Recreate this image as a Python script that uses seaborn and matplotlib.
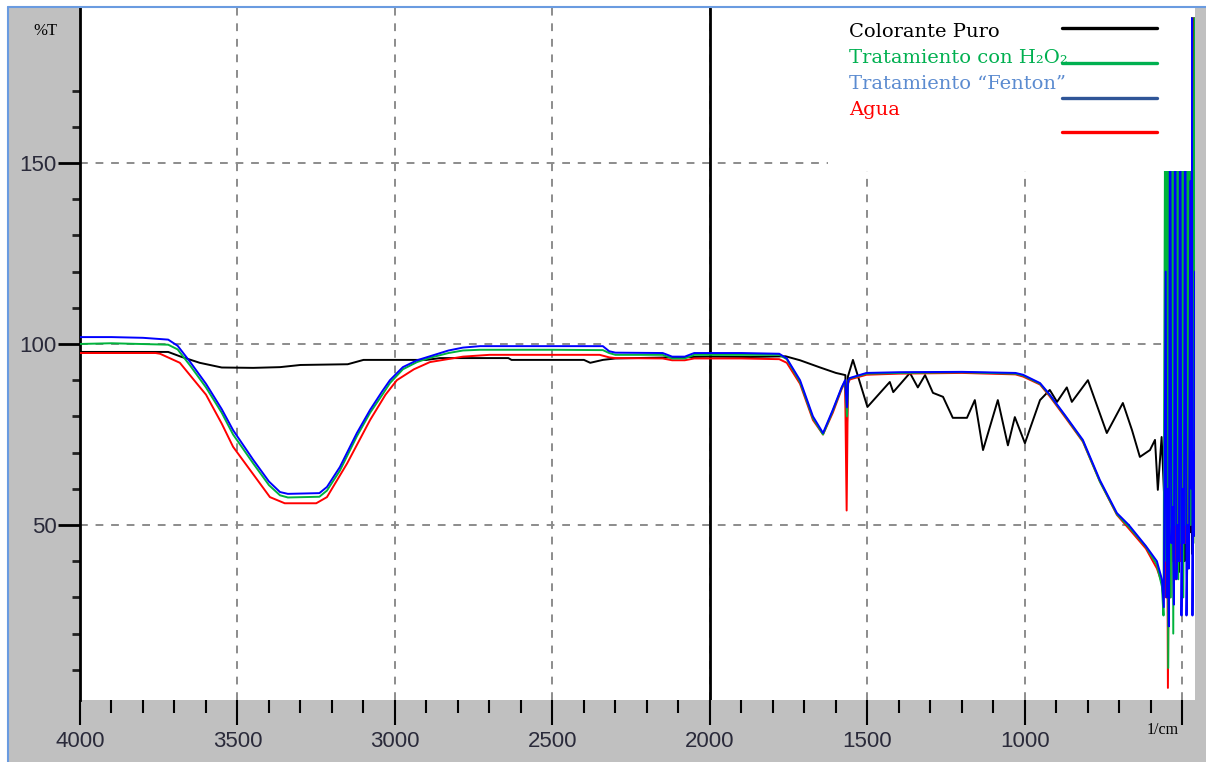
import numpy as np
import pandas as pd
import matplotlib
matplotlib.use("Agg")
import matplotlib.pyplot as plt
import seaborn as sns
from matplotlib.lines import Line2D
from matplotlib.patches import Rectangle

# ---------------- data ----------------
series_names = ["Colorante Puro", "Tratamiento con H\u2082O\u2082",
                "Tratamiento \u201cFenton\u201d", "Agua"]

puro_wn = [4000, 3720, 3680, 3620, 3550, 3450, 3365, 3300, 3150, 3100, 2900, 2857,
           2640, 2630, 2400, 2380, 2340, 2300, 2000, 1870, 1760, 1714, 1650, 1600,
           1570, 1566, 1562, 1546, 1500, 1429, 1418, 1365, 1340, 1317, 1292, 1260,
           1229, 1184, 1159, 1133, 1086, 1054, 1032, 1000, 952, 921, 898, 867, 851,
           800, 740, 689, 660, 635, 603, 587, 578, 566, 556,
           553, 550, 547, 544, 541, 538, 535, 532, 529, 526, 523, 520, 517, 514,
           511, 508, 505, 502, 499, 496, 493, 490, 487, 484, 481, 478, 475, 472,
           469, 466, 463]
puro_t = [97.8, 97.8, 96.5, 94.8, 93.5, 93.4, 93.6, 94.2, 94.4, 95.6, 95.6, 96.1,
          96.1, 95.6, 95.6, 94.8, 95.6, 96.0, 96.5, 96.4, 96.6, 95.5, 93.5, 92.0,
          91.4, 72.6, 91.0, 95.6, 82.6, 89.5, 86.7, 92.0, 88.0, 91.4, 86.5, 85.4,
          79.6, 79.6, 84.5, 70.7, 84.5, 72.0, 79.8, 72.6, 84.5, 87.3, 84.0, 88.0, 84.0,
          90.0, 75.4, 83.7, 76.2, 68.8, 70.7, 73.5, 59.7, 74.3, 54.0,
          65, 190, 48, 190, 45, 190, 60, 190, 45, 190, 55, 190, 40, 190,
          37, 190, 45, 190, 37, 190, 40, 190, 45, 190, 38, 190, 48, 190,
          42, 190, 47]

h2o2_wn = [4000, 3900, 3720, 3690, 3650, 3600, 3550, 3514, 3450, 3400, 3365, 3340,
           3240, 3216, 3175, 3121, 3079, 3040, 3016, 2975, 2930, 2889, 2830, 2784,
           2730, 2500, 2340, 2320, 2300, 2150, 2120, 2080, 2050, 1900, 1780, 1756,
           1714, 1673, 1641, 1610, 1582, 1571, 1565, 1561, 1556, 1503, 1400, 1200,
           1030, 1006, 952, 921, 870, 816, 762, 708, 670, 616, 581, 565, 560,
           554, 551, 548, 545, 541, 537, 533, 529, 525, 521, 517, 513, 509, 505,
           501, 497, 493, 489, 485, 481, 477, 473, 469, 465, 461]
h2o2_t = [100.0, 100.2, 99.8, 98.5, 94.0, 88.0, 81.0, 75.0, 67.0, 61.0, 58.2, 57.6,
          57.8, 59.5, 65.0, 74.5, 81.0, 86.0, 89.2, 93.0, 95.0, 96.2, 97.5, 98.2,
          98.4, 98.4, 98.3, 97.5, 97.0, 97.0, 96.0, 96.0, 97.0, 97.0, 97.0, 95.8,
          89.5, 79.5, 75.0, 81.5, 87.8, 89.8, 80.0, 89.8, 90.5, 91.8, 92.0, 92.2,
          91.8, 91.3, 89.0, 85.8, 79.8, 73.2, 62.0, 53.0, 49.5, 44.0, 39.0, 33.0, 25.0,
          190, 40, 190, 10.5, 190, 30, 190, 20, 190, 50, 190, 35, 190, 45,
          190, 30, 190, 50, 190, 40, 190, 50, 190, 45, 190]

fenton_wn = [4000, 3900, 3800, 3720, 3690, 3650, 3600, 3550, 3514, 3450, 3400, 3365,
             3340, 3240, 3216, 3175, 3121, 3079, 3040, 3016, 2975, 2930, 2889, 2830,
             2784, 2730, 2500, 2340, 2320, 2300, 2150, 2120, 2080, 2050, 1900, 1780,
             1756, 1714, 1673, 1641, 1610, 1582, 1571, 1565, 1561, 1556, 1503, 1400,
             1200, 1030, 1006, 952, 921, 870, 816, 762, 708, 670, 616, 581, 565, 559,
             553, 550, 546, 543, 539, 535, 531, 527, 523, 519, 515, 511, 507, 503,
             499, 495, 491, 487, 483, 479, 475, 472, 470, 468, 465, 463, 460]
fenton_t = [101.9, 101.9, 101.7, 101.2, 99.5, 95.0, 89.0, 82.0, 76.2, 68.0, 62.0, 59.1,
            58.6, 58.8, 60.5, 66.0, 75.4, 81.8, 87.0, 90.0, 93.6, 95.5, 96.6, 98.2,
            99.0, 99.4, 99.4, 99.4, 98.0, 97.6, 97.5, 96.5, 96.5, 97.5, 97.5, 97.3,
            96.0, 90.0, 80.0, 75.4, 81.8, 88.0, 90.0, 82.5, 90.0, 90.6, 92.0, 92.2,
            92.3, 92.0, 91.5, 89.2, 86.0, 80.0, 73.5, 62.4, 53.3, 50.0, 44.2, 40.0, 35.0, 27.3,
            120, 30, 60, 22, 190, 45, 55, 28, 190, 35, 50, 40, 190, 25,
            60, 45, 190, 25, 50, 38, 145, 60, 190, 25, 70, 47, 120]

agua_wn = [4000, 3760, 3746, 3683, 3600, 3550, 3514, 3450, 3397, 3350, 3250, 3216,
           3152, 3079, 3030, 2994, 2940, 2889, 2784, 2700, 2350, 2320, 2300, 2150,
           2120, 2080, 2050, 1900, 1780, 1756, 1714, 1673, 1641, 1610, 1582, 1571,
           1566, 1562, 1556, 1503, 1400, 1200, 1030, 1006, 952, 921, 870, 816, 762,
           708, 670, 616, 581, 565, 560,
           555, 552, 549, 546, 542, 538, 534, 530, 526, 522, 518, 514, 510, 506,
           502, 498, 494, 490, 486, 482, 478, 474, 470, 466, 462]
agua_t = [97.5, 97.5, 97.3, 94.8, 86.0, 78.0, 71.6, 64.0, 57.7, 56.0, 56.0, 57.7,
          67.0, 79.0, 86.0, 90.0, 93.0, 95.0, 96.5, 97.0, 97.0, 96.3, 96.1, 96.0,
          95.5, 95.5, 96.0, 96.0, 95.8, 94.8, 89.0, 79.0, 75.0, 81.0, 87.5, 89.5,
          54.0, 89.0, 90.2, 91.5, 91.8, 92.0, 91.6, 91.0, 88.8, 85.5, 79.5, 73.0, 62.0,
          52.8, 49.0, 43.5, 38.0, 34.0, 30.0,
          45, 30, 70, 5, 60, 30, 75, 40, 150, 35, 190, 45, 190, 40,
          190, 35, 190, 45, 190, 40, 190, 50, 190, 45, 190]

cursor_wn = 2000
x_major = [500, 1000, 1500, 2000, 2500, 3000, 3500, 4000]
x_labels = ["", "1000", "1500", "2000", "2500", "3000", "3500", "4000"]
y_major = [50, 100, 150]
y_labels = ["50", "100", "150"]

line_colors = {series_names[0]: "#000000", series_names[1]: "#00b33c",
               series_names[2]: "#0000ff", series_names[3]: "#ff0000"}
legend_line_colors = ["#000000", "#00b050", "#2f5597", "#ff0000"]
legend_text_colors = ["#000000", "#00b050", "#5b8bd0", "#ff0000"]

frames = []
for name, wn, t in [(series_names[0], puro_wn, puro_t), (series_names[3], agua_wn, agua_t),
                    (series_names[1], h2o2_wn, h2o2_t), (series_names[2], fenton_wn, fenton_t)]:
    frames.append(pd.DataFrame({"wn": wn, "T": t, "serie": name}))
df = pd.concat(frames, ignore_index=True)

# ---------------- figure ----------------
sns.set_theme(style="white")
W, H = 1206, 762
fig = plt.figure(figsize=(W / 100, H / 100), dpi=100, facecolor="#c0c0c0")
L, R, T, B = 80, 1195, 8, 700
ax = fig.add_axes([L / W, 1 - B / H, (R - L) / W, (B - T) / H])
ax.set_facecolor("white")

# frame decorations (white margin + blue border, top and left)
fig.add_artist(Rectangle((0, 1 - 7 / H), 1, 7 / H, transform=fig.transFigure,
                         facecolor="white", edgecolor="none", zorder=0))
fig.add_artist(Rectangle((0, 0), 8 / W, 1, transform=fig.transFigure,
                         facecolor="white", edgecolor="none", zorder=0))
fig.add_artist(Line2D([8 / W, 1], [1 - 7 / H, 1 - 7 / H], transform=fig.transFigure,
                      color="#6a9be0", lw=1.5))
fig.add_artist(Line2D([8 / W, 8 / W], [0, 1 - 7 / H], transform=fig.transFigure,
                      color="#6a9be0", lw=1.5))

# grid
ax.grid(True, which="major", color="#8c8c8c", linestyle=(0, (4, 4)), lw=1.4, zorder=0)
ax.axvline(cursor_wn, color="black", lw=2, zorder=1)

for i, name in enumerate([series_names[0], series_names[3], series_names[1], series_names[2]]):
    sub = df[df["serie"] == name]
    sns.lineplot(data=sub, x="wn", y="T", color=line_colors[name], lw=1.4,
                 sort=False, estimator=None, ax=ax, zorder=2 + i, legend=False)

ax.set_xlim(4000, 460)
ax.set_ylim(1.66, 192.8)
ax.set_xlabel("")
ax.set_ylabel("")

ax.set_xticks(x_major)
ax.set_xticklabels(x_labels)
ax.set_xticks(np.arange(600, 4000, 100), minor=True)
ax.set_yticks(y_major)
ax.set_yticklabels(y_labels)
ax.set_yticks(np.arange(10, 180, 10), minor=True)

for lab in ax.get_xticklabels() + ax.get_yticklabels():
    lab.set_fontfamily("Liberation Sans")
    lab.set_fontsize(16)
    lab.set_color("#2a2a3a")

ax.tick_params(axis="x", which="major", direction="out", length=18, width=1.5,
               color="black", pad=4, bottom=True)
ax.tick_params(axis="x", which="minor", direction="out", length=9, width=1.5,
               color="black", bottom=True)
ax.tick_params(axis="y", which="major", direction="out", length=16, width=2,
               color="black", pad=1, left=True)
ax.tick_params(axis="y", which="minor", direction="out", length=6, width=2,
               color="#222222", left=True)

for s in ["top", "right", "bottom"]:
    ax.spines[s].set_visible(False)
ax.spines["left"].set_color("black")
ax.spines["left"].set_linewidth(2)

# legend panel (white box over top-right corner) with labels and swatches
ax.add_patch(Rectangle((0.671, 0.765), 0.3255, 0.24, transform=ax.transAxes,
                       facecolor="white", edgecolor="none", zorder=10, clip_on=False))
text_y = [0.9653, 0.9277, 0.8902, 0.8526]
swatch_y = [0.9711, 0.9205, 0.8699, 0.8208]
for name, tc, lc, ty, sy in zip(series_names, legend_text_colors, legend_line_colors,
                                text_y, swatch_y):
    ax.text(0.6897, ty, name, transform=ax.transAxes, color=tc, fontsize=14,
            family=["DejaVu Serif"], ha="left", va="center", zorder=12)
    ax.add_line(Line2D([0.8807, 0.9659], [sy, sy], transform=ax.transAxes, color=lc,
                       lw=2.4, zorder=11, clip_on=False))

fig.text(45 / W, 1 - 31 / H, "%T", family=["Liberation Serif", "DejaVu Serif"],
         size=12, ha="center", va="center", color="black")
fig.text(1163 / W, 1 - 730 / H, "1/cm", family=["Liberation Serif", "DejaVu Serif"],
         size=11.5, ha="center", va="center", color="black")

fig.savefig("out.png", dpi=100, facecolor=fig.get_facecolor())
